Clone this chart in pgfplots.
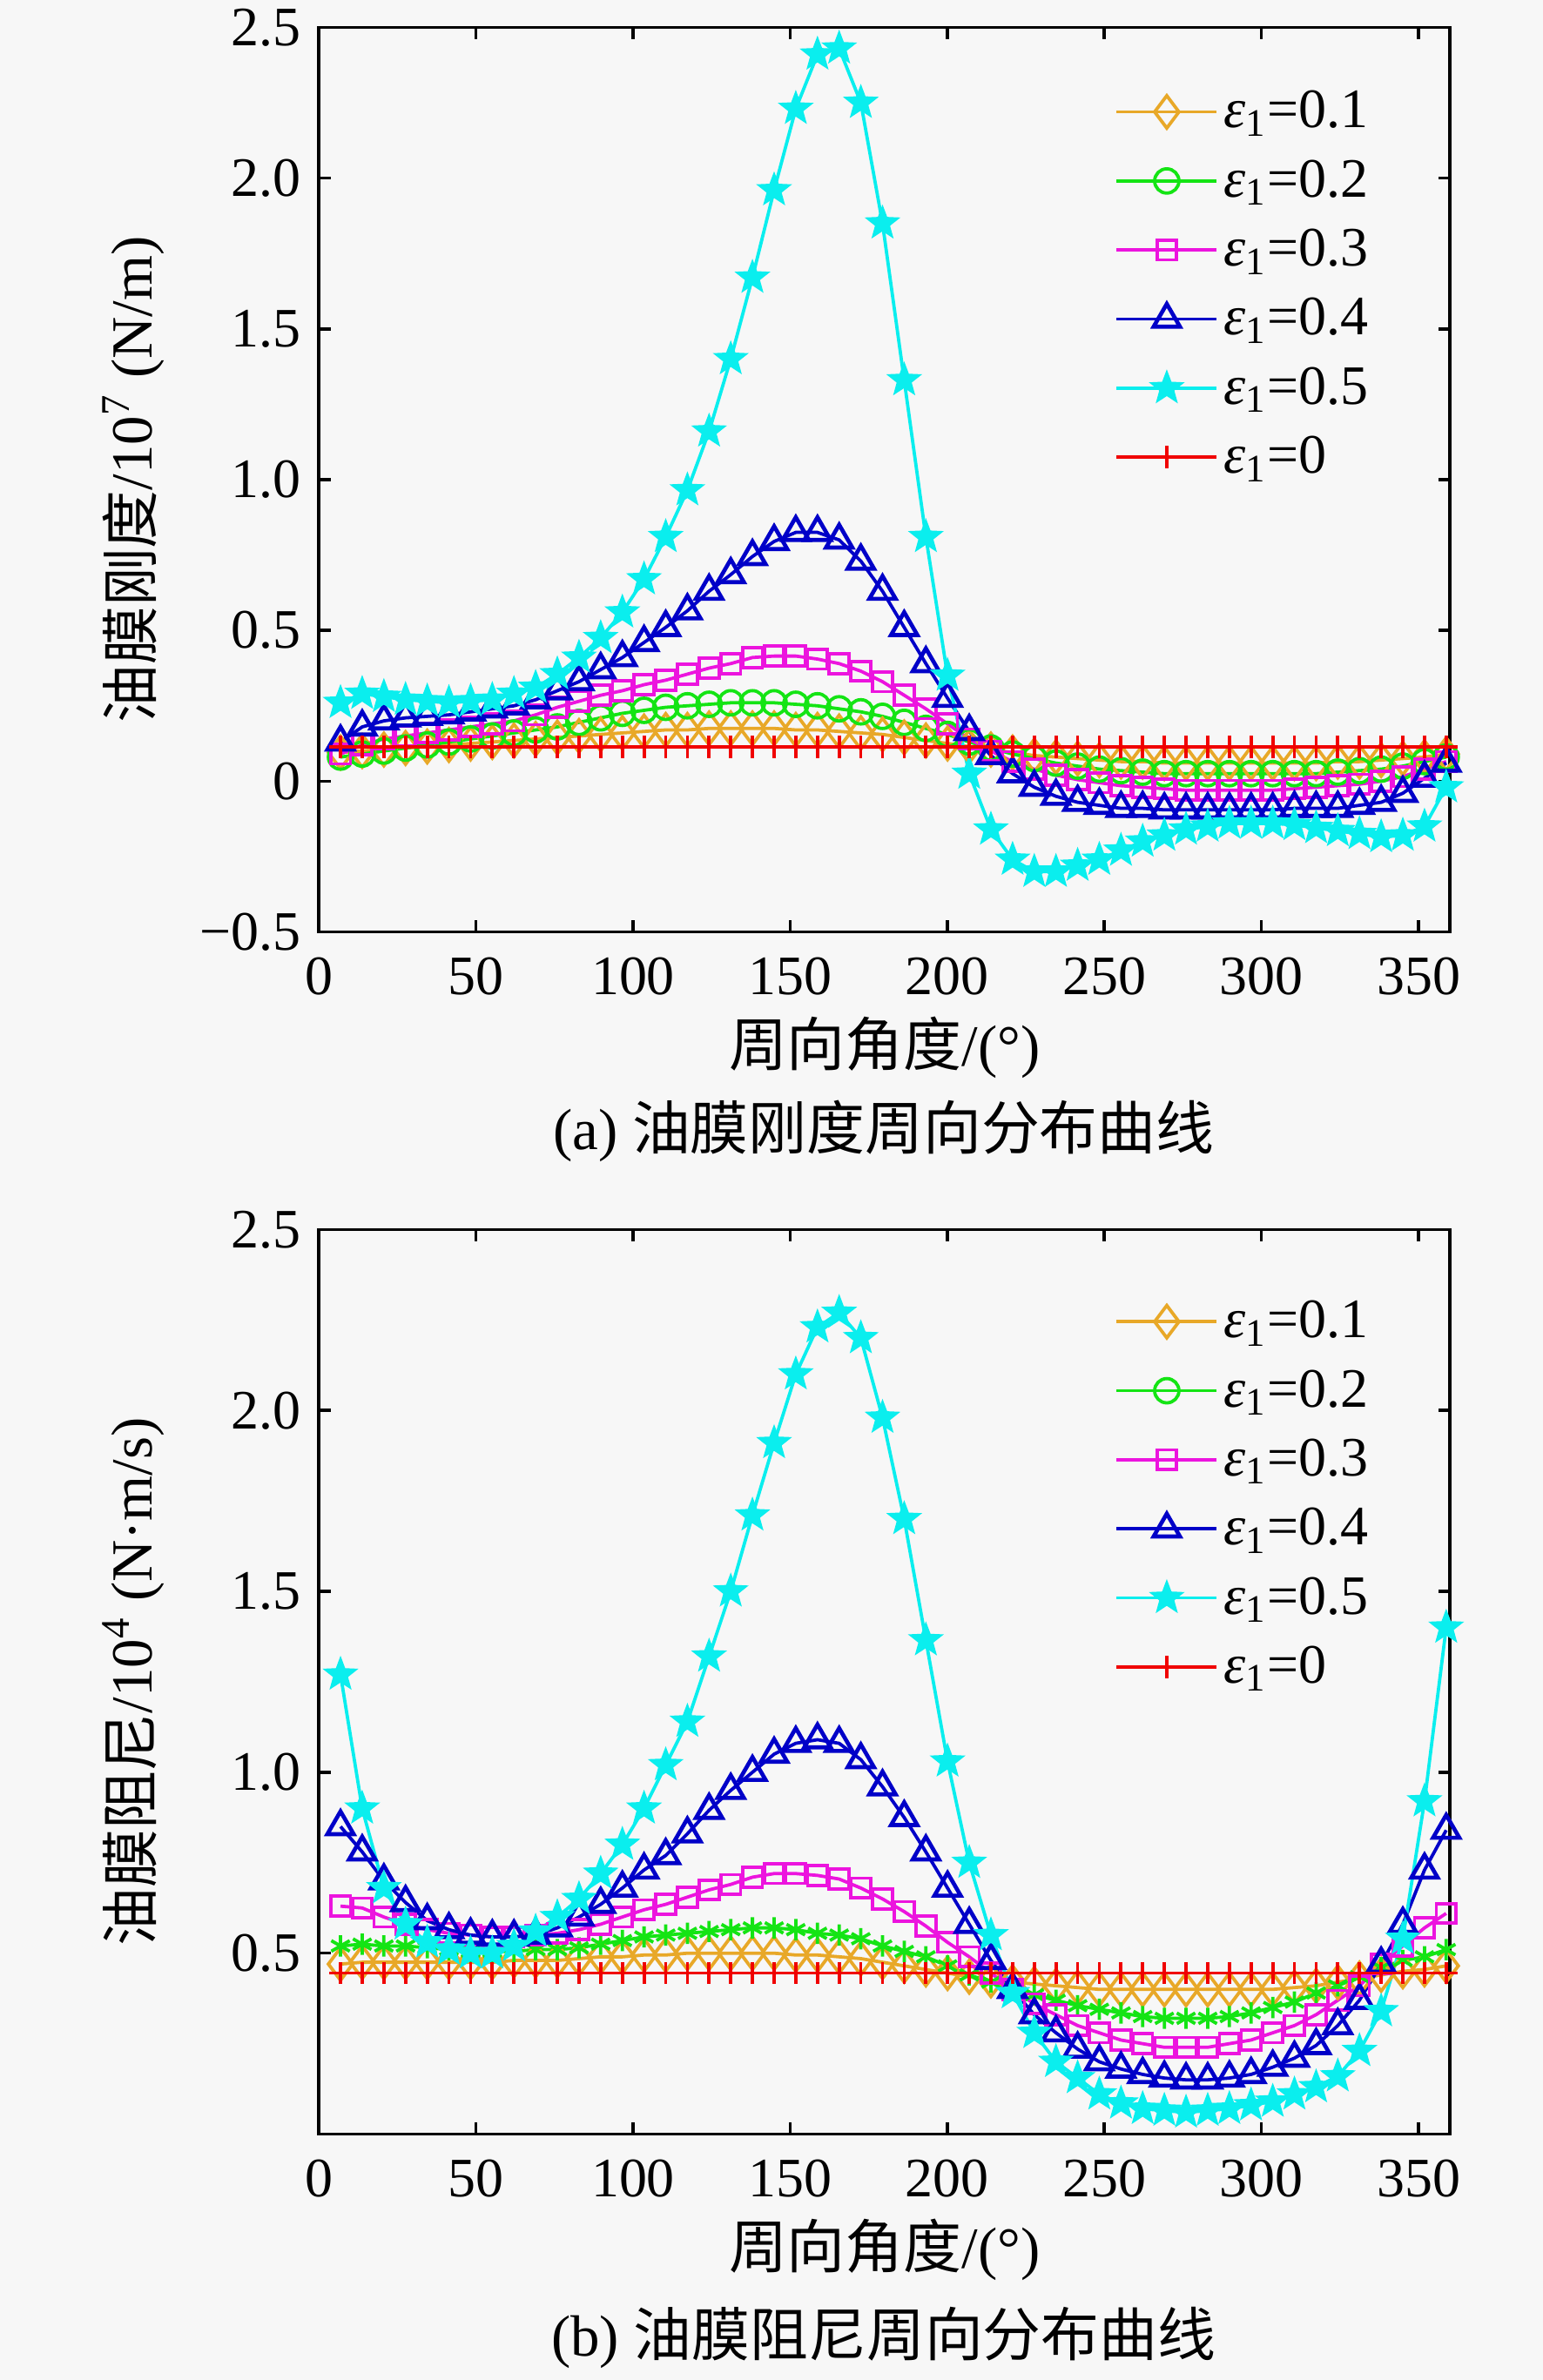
\documentclass[border=0pt]{standalone}
\usepackage{fontspec}
\setmainfont{Liberation Serif}
\newfontfamily\cjk{Noto Sans CJK SC}
\usepackage{pgfplots}
\usepackage{pgfplotstable}
\pgfplotsset{compat=1.18}
\usetikzlibrary{plotmarks}

\definecolor{bg}{RGB}{247,247,247}
\definecolor{c1}{RGB}{232,168,40}
\definecolor{c2}{RGB}{20,228,20}
\definecolor{c3}{RGB}{236,20,222}
\definecolor{c4}{RGB}{0,0,200}
\definecolor{c5}{RGB}{10,238,238}
\definecolor{c0}{RGB}{240,0,0}

\pgfdeclareplotmark{fstar}{%
  \pgfpathmoveto{\pgfpointpolar{90}{\pgfplotmarksize}}%
  \pgfpathlineto{\pgfpointpolar{126}{0.42\pgfplotmarksize}}%
  \pgfpathlineto{\pgfpointpolar{162}{\pgfplotmarksize}}%
  \pgfpathlineto{\pgfpointpolar{198}{0.42\pgfplotmarksize}}%
  \pgfpathlineto{\pgfpointpolar{234}{\pgfplotmarksize}}%
  \pgfpathlineto{\pgfpointpolar{270}{0.42\pgfplotmarksize}}%
  \pgfpathlineto{\pgfpointpolar{306}{\pgfplotmarksize}}%
  \pgfpathlineto{\pgfpointpolar{342}{0.42\pgfplotmarksize}}%
  \pgfpathlineto{\pgfpointpolar{18}{\pgfplotmarksize}}%
  \pgfpathlineto{\pgfpointpolar{54}{0.42\pgfplotmarksize}}%
  \pgfpathclose
  \pgfusepathqfillstroke}

\pgfplotstableread{
x      a1     a2     a3     a4     a5     a0
6.9    0.095  0.08   0.09   0.13   0.26   0.113
13.8   0.10   0.09   0.12   0.18   0.29   0.113
20.7   0.105  0.10   0.14   0.20   0.28   0.113
27.6   0.11   0.11   0.15   0.21   0.27   0.113
34.5   0.115  0.12   0.16   0.215  0.265  0.113
41.4   0.12   0.13   0.17   0.22   0.26   0.113
48.3   0.125  0.14   0.18   0.23   0.265  0.113
55.2   0.13   0.15   0.19   0.24   0.27   0.113
62.1   0.135  0.16   0.20   0.25   0.29   0.113
69.0   0.14   0.17   0.22   0.27   0.31   0.113
75.9   0.145  0.18   0.245  0.30   0.355  0.113
82.8   0.15   0.195  0.265  0.33   0.41   0.113
89.7   0.155  0.21   0.285  0.37   0.475  0.113
96.6   0.16   0.225  0.30   0.41   0.56   0.113
103.5  0.165  0.235  0.32   0.46   0.67   0.113
110.4  0.17   0.245  0.335  0.51   0.81   0.113
117.3  0.17   0.25   0.355  0.565  0.965  0.113
124.2  0.175  0.255  0.375  0.63   1.16   0.113
131.1  0.175  0.26   0.39   0.685  1.40   0.113
138.0  0.175  0.26   0.41   0.745  1.67   0.113
144.9  0.175  0.26   0.415  0.795  1.96   0.113
151.8  0.17   0.255  0.415  0.825  2.23   0.113
158.7  0.17   0.25   0.405  0.825  2.41   0.113
165.6  0.165  0.24   0.39   0.80   2.43   0.113
172.5  0.16   0.23   0.365  0.73   2.25   0.113
179.4  0.155  0.215  0.33   0.63   1.85   0.113
186.3  0.145  0.195  0.285  0.51   1.33   0.113
193.2  0.135  0.175  0.24   0.39   0.81   0.113
200.1  0.125  0.155  0.19   0.275  0.35   0.113
207.0  0.115  0.13   0.14   0.165  0.025  0.113
213.9  0.105  0.11   0.10   0.085  -0.16  0.113
220.8  0.095  0.09   0.065  0.025  -0.26  0.113
227.7  0.085  0.075  0.04   -0.02  -0.30  0.113
234.6  0.08   0.06   0.02   -0.05  -0.30  0.113
241.5  0.075  0.05   0.005  -0.07  -0.28  0.113
248.4  0.07   0.04   -0.005 -0.08  -0.26  0.113
255.3  0.065  0.035  -0.015 -0.09  -0.23  0.113
262.2  0.065  0.03   -0.02  -0.09  -0.20  0.113
269.1  0.06   0.025  -0.025 -0.095 -0.18  0.113
276.0  0.06   0.025  -0.03  -0.095 -0.16  0.113
282.9  0.06   0.025  -0.03  -0.095 -0.15  0.113
289.8  0.06   0.025  -0.03  -0.095 -0.14  0.113
296.7  0.06   0.025  -0.03  -0.095 -0.14  0.113
303.6  0.06   0.025  -0.03  -0.095 -0.14  0.113
310.5  0.06   0.025  -0.025 -0.09  -0.145 0.113
317.4  0.06   0.025  -0.02  -0.09  -0.155 0.113
324.3  0.065  0.03   -0.015 -0.09  -0.165 0.113
331.2  0.065  0.035  -0.01  -0.08  -0.175 0.113
338.1  0.07   0.04   0.0    -0.07  -0.185 0.113
345.0  0.075  0.05   0.015  -0.04  -0.18  0.113
351.9  0.08   0.065  0.04   0.01   -0.15  0.113
358.8  0.09   0.08   0.065  0.06   -0.02  0.113
}\topdata

\pgfplotstableread{
x      b1     b2     b3     b4     b5     b0
6.9    0.47   0.52   0.63   0.85   1.27   0.445
13.8   0.475  0.525  0.625  0.78   0.90   0.445
20.7   0.475  0.52   0.60   0.70   0.68   0.445
27.6   0.475  0.52   0.58   0.64   0.58   0.445
34.5   0.475  0.515  0.565  0.59   0.53   0.445
41.4   0.475  0.51   0.555  0.565  0.51   0.445
48.3   0.475  0.505  0.55   0.55   0.50   0.445
55.2   0.475  0.505  0.545  0.545  0.50   0.445
62.1   0.48   0.505  0.545  0.545  0.52   0.445
69.0   0.48   0.51   0.55   0.55   0.56   0.445
75.9   0.48   0.51   0.555  0.57   0.60   0.445
82.8   0.485  0.515  0.565  0.60   0.65   0.445
89.7   0.49   0.525  0.58   0.635  0.72   0.445
96.6   0.49   0.535  0.60   0.68   0.80   0.445
103.5  0.495  0.545  0.62   0.73   0.90   0.445
110.4  0.495  0.55   0.635  0.77   1.02   0.445
117.3  0.50   0.555  0.655  0.83   1.14   0.445
124.2  0.50   0.56   0.675  0.895  1.32   0.445
131.1  0.50   0.565  0.69   0.95   1.50   0.445
138.0  0.50   0.57   0.71   1.00   1.71   0.445
144.9  0.50   0.57   0.72   1.05   1.91   0.445
151.8  0.495  0.565  0.72   1.08   2.10   0.445
158.7  0.495  0.555  0.715  1.09   2.23   0.445
165.6  0.49   0.55   0.705  1.08   2.27   0.445
172.5  0.485  0.54   0.68   1.035  2.20   0.445
179.4  0.475  0.52   0.65   0.96   1.98   0.445
186.3  0.465  0.505  0.615  0.875  1.70   0.445
193.2  0.455  0.49   0.575  0.78   1.365  0.445
200.1  0.445  0.465  0.53   0.68   1.03   0.445
207.0  0.435  0.44   0.49   0.58   0.75   0.445
213.9  0.425  0.42   0.445  0.48   0.55   0.445
220.8  0.42   0.40   0.40   0.40   0.39   0.445
227.7  0.415  0.385  0.36   0.33   0.28   0.445
234.6  0.41   0.37   0.33   0.28   0.20   0.445
241.5  0.405  0.355  0.30   0.235  0.155  0.445
248.4  0.40   0.345  0.28   0.20   0.11   0.445
255.3  0.40   0.335  0.26   0.18   0.085  0.445
262.2  0.40   0.325  0.25   0.165  0.07   0.445
269.1  0.40   0.32   0.24   0.155  0.065  0.445
276.0  0.40   0.32   0.24   0.15   0.06   0.445
282.9  0.40   0.32   0.24   0.15   0.065  0.445
289.8  0.40   0.325  0.25   0.155  0.07   0.445
296.7  0.40   0.335  0.26   0.165  0.08   0.445
303.6  0.40   0.35   0.28   0.185  0.09   0.445
310.5  0.405  0.365  0.30   0.21   0.11   0.445
317.4  0.41   0.39   0.33   0.245  0.13   0.445
324.3  0.42   0.41   0.37   0.30   0.16   0.445
331.2  0.43   0.435  0.41   0.37   0.23   0.445
338.1  0.44   0.46   0.47   0.47   0.34   0.445
345.0  0.45   0.48   0.52   0.58   0.54   0.445
351.9  0.455  0.49   0.57   0.73   0.92   0.445
358.8  0.465  0.51   0.61   0.84   1.40   0.445
}\botdata

\pgfplotsset{
  myaxis/.style={
    scale only axis, width=223.5pt, height=178.8pt,
    anchor=south west,
    xmin=0, xmax=360, xtick={0,50,...,350},
    axis line style={line width=0.6pt},
    every tick/.style={black, line width=0.6pt},
    major tick length=2.3pt,
    tick align=inside,
    /pgf/number format/assume math mode=true,
    tick label style={font=\fontsize{11}{13}\selectfont},
    xticklabel style={yshift=-1.5pt},
    label style={font=\fontsize{11.5}{13}\selectfont},
    xlabel={{\cjk 周向角度}/(°)},
    xlabel style={at={(axis description cs:0.5,-0.1275)}, anchor=center},
    ylabel style={at={(axis description cs:-0.164,0.5)}, anchor=center},
    legend cell align=left,
    legend style={draw=none, fill=none, font=\fontsize{11}{13}\selectfont,
      inner sep=0pt, row sep=0pt,
      nodes={inner sep=1pt, text height=9pt, text depth=2.65pt}},
    legend image code/.code={\draw[mark repeat=2,mark phase=2] plot coordinates {(0pt,0pt) (9.9pt,0pt) (19.8pt,0pt)};},
    every axis plot/.append style={line width=0.65pt},
  },
  s1/.style={c1, mark=diamond, mark size=3.2pt, mark options={solid}},
  s2/.style={c2, mark=o, mark size=2.4pt, mark options={solid}},
  s3/.style={c3, mark=square, mark size=1.95pt, mark options={solid}},
  s4/.style={c4, mark=triangle, mark size=3pt, mark options={solid, line width=0.8pt}},
  s5/.style={c5, mark=fstar, mark size=2.8pt, mark options={solid, fill=c5}},
  s0/.style={c0, mark=+, mark size=2.2pt, mark options={solid}},
}

\begin{document}
\begin{tikzpicture}
\useasboundingbox (0,0) rectangle (304.8pt,-470.4pt);
\fill[bg] (0,0) rectangle (304.8pt,-470.4pt);

\begin{axis}[myaxis, at={(63pt,-184.2pt)},
  ymin=-0.5, ymax=2.5,
  ytick={-0.5,0,0.5,1,1.5,2,2.5},
  yticklabels={−0.5,0,0.5,1.0,1.5,2.0,2.5},
  ylabel={{\cjk 油膜刚度}/10\textsuperscript{7} (N/m)},
  legend style={at={(axis description cs:0.703,0.9458)}, anchor=north west}]
\addplot[s1] table[x=x,y=a1]{\topdata};
\addlegendentry{\textit{ε}\textsubscript{1}=0.1}
\addplot[s2] table[x=x,y=a2]{\topdata};
\addlegendentry{\textit{ε}\textsubscript{1}=0.2}
\addplot[s3] table[x=x,y=a3]{\topdata};
\addlegendentry{\textit{ε}\textsubscript{1}=0.3}
\addplot[s4] table[x=x,y=a4]{\topdata};
\addlegendentry{\textit{ε}\textsubscript{1}=0.4}
\addplot[s5] table[x=x,y=a5]{\topdata};
\addlegendentry{\textit{ε}\textsubscript{1}=0.5}
\addplot[s0] table[x=x,y=a0]{\topdata};
\addlegendentry{\textit{ε}\textsubscript{1}=0}
\end{axis}
\node[font=\fontsize{11.5}{13}\selectfont] at (174.6pt,-223.5pt) {(a) {\cjk 油膜刚度周向分布曲线}};

\begin{axis}[myaxis, at={(63pt,-421.8pt)},
  ymin=0, ymax=2.5,
  ytick={0.5,1,1.5,2,2.5},
  yticklabels={0.5,1.0,1.5,2.0,2.5},
  ylabel={{\cjk 油膜阻尼}/10\textsuperscript{4} (N·m/s)},
  legend style={at={(axis description cs:0.703,0.9374)}, anchor=north west}]
\addplot[s1] table[x=x,y=b1]{\botdata};
\addlegendentry{\textit{ε}\textsubscript{1}=0.1}
\addplot[s2, mark=asterisk, mark size=2.1pt,
  legend image code/.code={\draw[mark=o, mark size=2.4pt, mark repeat=2,mark phase=2] plot coordinates {(0pt,0pt) (9.9pt,0pt) (19.8pt,0pt)};}]
  table[x=x,y=b2]{\botdata};
\addlegendentry{\textit{ε}\textsubscript{1}=0.2}
\addplot[s3] table[x=x,y=b3]{\botdata};
\addlegendentry{\textit{ε}\textsubscript{1}=0.3}
\addplot[s4] table[x=x,y=b4]{\botdata};
\addlegendentry{\textit{ε}\textsubscript{1}=0.4}
\addplot[s5] table[x=x,y=b5]{\botdata};
\addlegendentry{\textit{ε}\textsubscript{1}=0.5}
\addplot[s0] table[x=x,y=b0]{\botdata};
\addlegendentry{\textit{ε}\textsubscript{1}=0}
\end{axis}
\node[font=\fontsize{11.5}{13}\selectfont] at (174.6pt,-462pt) {(b) {\cjk 油膜阻尼周向分布曲线}};
\end{tikzpicture}
\end{document}
